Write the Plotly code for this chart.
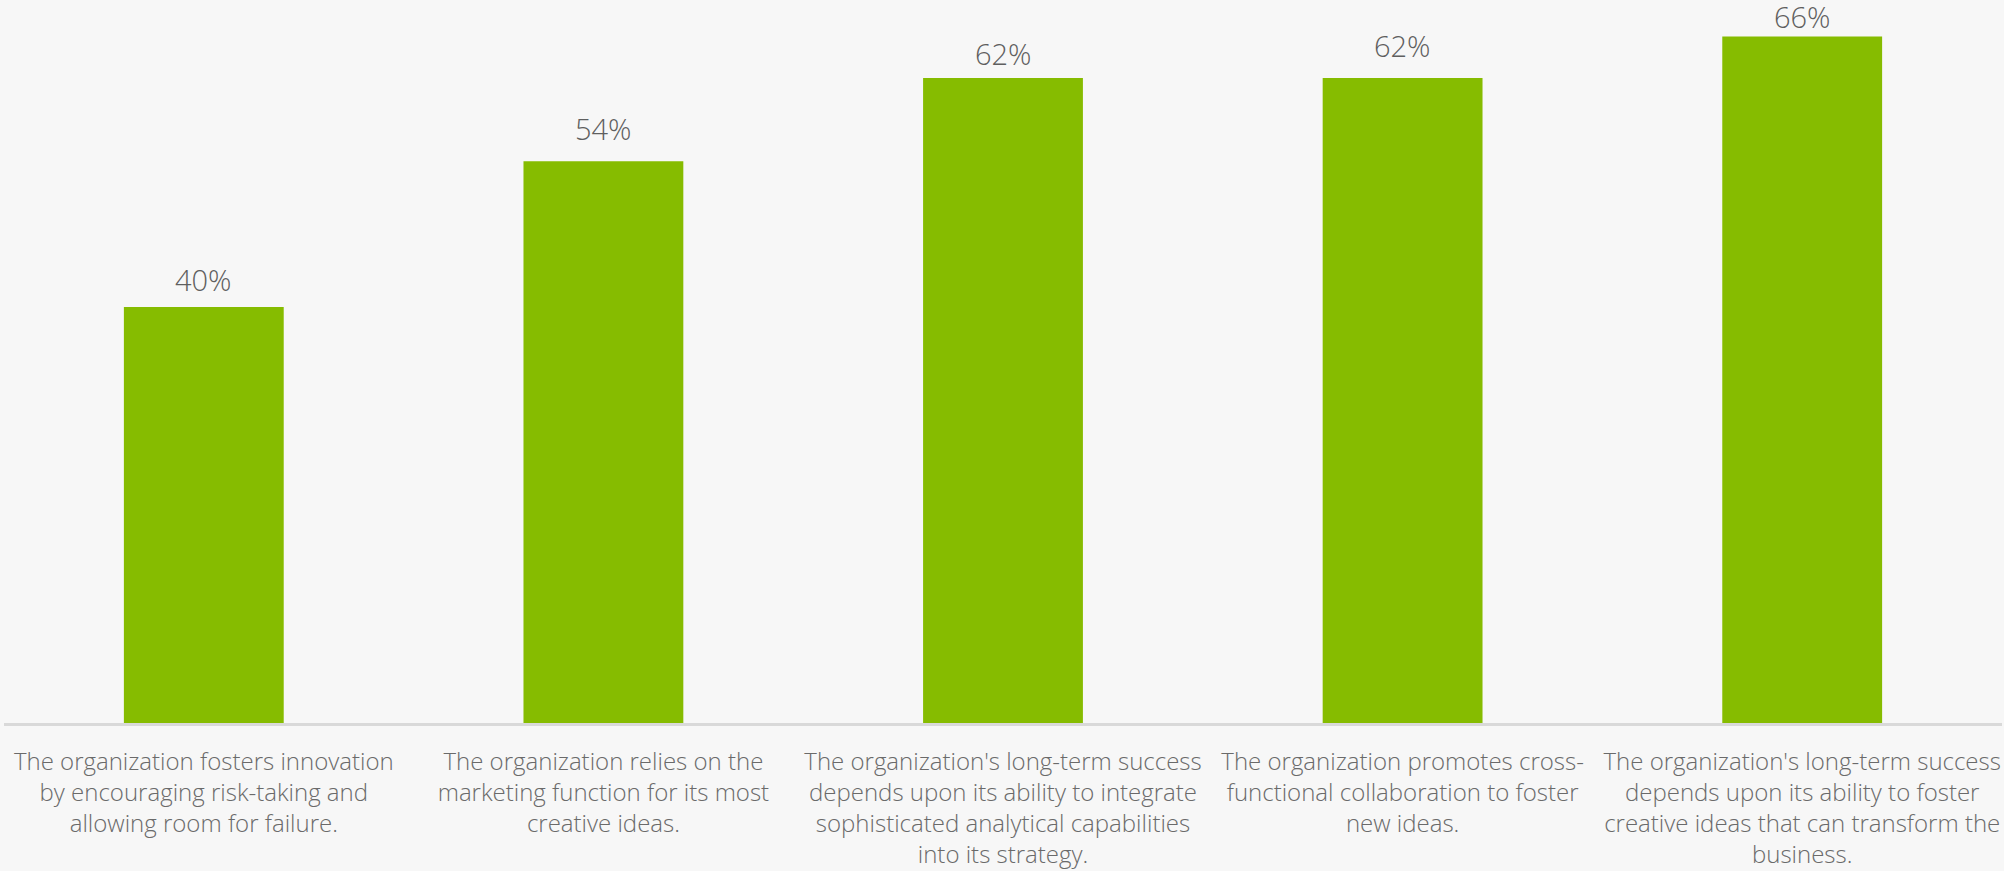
import plotly.graph_objects as go

categories = [
    "The organization fosters innovation<br>by encouraging risk-taking and<br>allowing room for failure.",
    "The organization relies on the<br>marketing function for its most<br>creative ideas.",
    "The organization's long-term success<br>depends upon its ability to integrate<br>sophisticated analytical capabilities<br>into its strategy.",
    "The organization promotes cross-<br>functional collaboration to foster<br>new ideas.",
    "The organization's long-term success<br>depends upon its ability to foster<br>creative ideas that can transform the<br>business.",
]
values = [40, 54, 62, 62, 66]
value_labels = ["40%", "54%", "62%", "62%", "66%"]

# label offsets above bar tops (pixels), as placed in the reference
label_shift = [6, 11, 3, 11, -2]

BG = "#f7f7f7"

fig = go.Figure(
    go.Bar(
        x=categories,
        y=values,
        marker=dict(color="#86bc00", line=dict(width=0)),
        cliponaxis=False,
        hoverinfo="skip",
    )
)

for cat, val, lab, sh in zip(categories, values, value_labels, label_shift):
    fig.add_annotation(
        x=cat, y=val, text=lab, showarrow=False,
        yanchor="bottom", yshift=sh,
        font=dict(family="Open Sans", size=29, color="#5f5f5f", weight=300),
    )

fig.update_layout(
    width=2004,
    height=871,
    margin=dict(l=4, r=2, t=0, b=148),
    paper_bgcolor=BG,
    plot_bgcolor=BG,
    bargap=0.6,
    showlegend=False,
    font=dict(family="Open Sans", color="#595959"),
)
fig.update_xaxes(
    automargin=False,
    showline=True,
    linecolor="#d9d9d9",
    linewidth=3,
    ticks="outside",
    ticklen=15,
    tickcolor="rgba(0,0,0,0)",
    tickfont=dict(family="Open Sans", size=24, color="#6a6a6a", weight=300),
    tickangle=0,
    showgrid=False,
    zeroline=False,
)
fig.update_yaxes(
    automargin=False,
    range=[0, 69.5],
    visible=False,
    showgrid=False,
    zeroline=False,
)

fig.write_html(
    "out.html",
    config={"displayModeBar": False},
    post_script="document.body.style.margin='0';document.body.style.background='#f7f7f7';",
)
